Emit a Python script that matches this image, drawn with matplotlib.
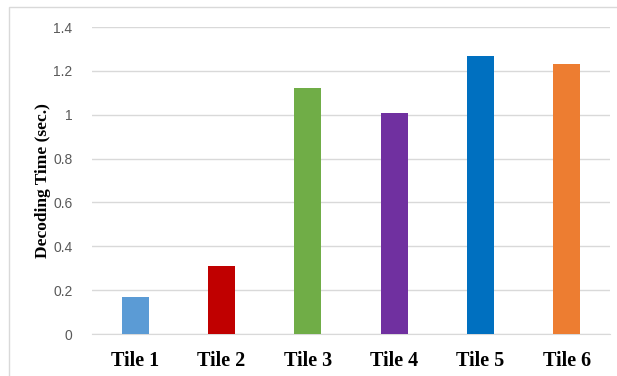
import matplotlib
matplotlib.use('Agg')
import matplotlib.pyplot as plt
from matplotlib.patches import Rectangle

tiles = ['Tile 1', 'Tile 2', 'Tile 3', 'Tile 4', 'Tile 5', 'Tile 6']
decode_time = [0.17, 0.31, 1.12, 1.01, 1.27, 1.23]
bar_colors = ['#5B9BD5', '#C00000', '#70AD47', '#7030A0', '#0070C0', '#ED7D31']
yticks = [0, 0.2, 0.4, 0.6, 0.8, 1, 1.2, 1.4]
ytick_labels = ['0', '0.2', '0.4', '0.6', '0.8', '1', '1.2', '1.4']

fig = plt.figure(figsize=(6.17, 3.76), dpi=100)
fig.patch.set_facecolor('white')

# light chart-area frame
fig.patches.append(Rectangle((9 / 617, -0.05), 1.0, 1 - 7 / 376 + 0.05,
                             transform=fig.transFigure, fill=False,
                             edgecolor='#d9d9d9', lw=1.0))

ax = fig.add_axes([92 / 617, 1 - 334 / 376, 518 / 617, 307 / 376])
x = range(len(tiles))
ax.bar(x, decode_time, width=0.31, color=bar_colors, zorder=3)

ax.set_xlim(-0.5, len(tiles) - 0.5)
ax.set_ylim(0, 1.4)
ax.set_yticks(yticks)
ax.set_yticklabels(ytick_labels, family='Liberation Sans', fontsize=10, color='#595959')
ax.set_xticks(list(x))
ax.set_xticklabels(tiles, family='Liberation Serif', fontweight='bold', fontsize=14.5)
ax.tick_params(axis='both', length=0)
ax.tick_params(axis='y', pad=14)
ax.tick_params(axis='x', pad=12)

ax.grid(axis='y', color='#d9d9d9', lw=1.0, zorder=0)
for s in ['top', 'right', 'left']:
    ax.spines[s].set_visible(False)
ax.spines['bottom'].set_color('#d9d9d9')

ax.set_ylabel('Decoding Time (sec.)', family='Liberation Serif', fontweight='bold',
              fontsize=12.5)
ax.yaxis.set_label_coords(-(92 - 51) / 518, (334 - 181) / 307)

fig.savefig('out.png', dpi=100)
